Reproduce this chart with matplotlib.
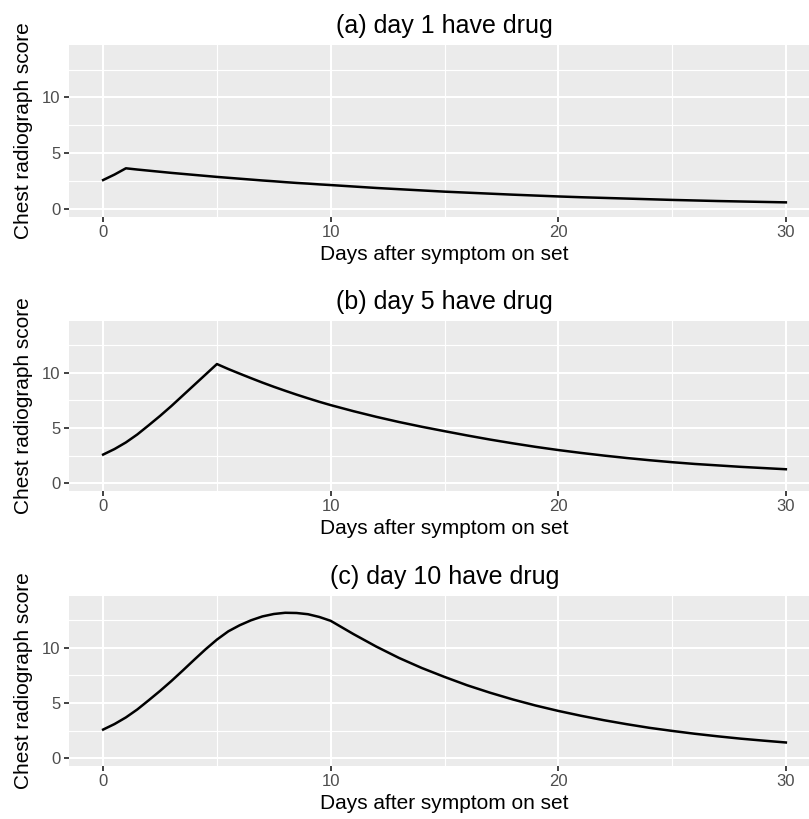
import matplotlib

matplotlib.use("Agg")
import matplotlib.pyplot as plt
from matplotlib.ticker import MultipleLocator

# Chest radiograph score: half-day steps up to day 10,
# then one value per day
days = [0, 0.5, 1, 1.5, 2, 2.5, 3, 3.5, 4, 4.5, 5, 5.5, 6, 6.5, 7, 7.5, 8, 8.5,
        9, 9.5, 10, 11, 12, 13, 14, 15, 16, 17, 18, 19, 20, 21, 22, 23, 24,
        25, 26, 27, 28, 29, 30]

score_day1 = [2.61, 3.10, 3.66, 3.55, 3.45, 3.35, 3.25, 3.16, 3.07, 2.98, 2.89,
              2.81, 2.73, 2.65, 2.57, 2.50, 2.42, 2.35, 2.29, 2.22, 2.16,
              2.03, 1.90, 1.79, 1.68, 1.57, 1.48, 1.39, 1.30, 1.22, 1.14,
              1.07, 1.01, 0.95, 0.89, 0.83, 0.78, 0.73, 0.69, 0.65, 0.61]

score_day5 = [2.60, 3.10, 3.70, 4.42, 5.25, 6.10, 7.00, 7.95, 8.90, 9.85, 10.80,
              10.35, 9.93, 9.52, 9.12, 8.74, 8.38, 8.03, 7.70, 7.38, 7.08,
              6.53, 6.02, 5.55, 5.12, 4.72, 4.33, 3.96, 3.62, 3.30, 3.01,
              2.75, 2.51, 2.29, 2.09, 1.91, 1.75, 1.62, 1.49, 1.38, 1.27]

score_day10 = [2.60, 3.10, 3.70, 4.42, 5.25, 6.10, 7.00, 7.95, 8.92, 9.87, 10.75,
               11.50, 12.05, 12.50, 12.85, 13.07, 13.18, 13.16, 13.05, 12.80, 12.45,
               11.25, 10.12, 9.09, 8.18, 7.37, 6.61, 5.94, 5.33, 4.78, 4.29,
               3.85, 3.45, 3.09, 2.76, 2.48, 2.22, 1.99, 1.78, 1.60, 1.43]

titles = ["(a) day 1 have drug", "(b) day 5 have drug", "(c) day 10 have drug"]
series = [score_day1, score_day5, score_day10]

plt.rcParams["font.family"] = ["Liberation Sans", "DejaVu Sans"]

W, H = 809, 819
fig = plt.figure(figsize=(W / 100, H / 100), dpi=100)

# panel boxes in pixels (top, bottom); panels run a bit past the right edge
panel_left, panel_right = 69, 820
panel_rows = [(45, 217), (321, 491), (596, 766)]

for (top, bottom), title, values in zip(panel_rows, titles, series):
    ax = fig.add_axes([panel_left / W, 1 - bottom / H,
                       (panel_right - panel_left) / W, (bottom - top) / H])
    ax.set_facecolor("#EBEBEB")
    for side in ax.spines.values():
        side.set_visible(False)

    ax.plot(days, values, color="black", lw=1.8, solid_joinstyle="round")

    ax.set_xlim(-1.5, 31.5)
    ax.set_ylim(-0.7, 14.7)
    ax.xaxis.set_major_locator(MultipleLocator(10))
    ax.xaxis.set_minor_locator(MultipleLocator(5))
    ax.yaxis.set_major_locator(MultipleLocator(5))
    ax.yaxis.set_minor_locator(MultipleLocator(2.5))

    ax.grid(which="major", color="white", lw=1.5)
    ax.grid(which="minor", color="white", lw=0.8)
    ax.set_axisbelow(True)

    ax.tick_params(which="major", length=3.6, width=1.3, color="#333333",
                   labelcolor="#4D4D4D", labelsize=12, pad=2.4)
    ax.tick_params(which="minor", length=0)

    ax.set_title(title, fontsize=18, pad=8.5)

    # x label baseline sits 43 px under the panel
    ax.set_xlabel("Days after symptom on set", fontsize=15)
    ax.xaxis.label.set_va("baseline")
    ax.xaxis.set_label_coords(0.5, -43 / (bottom - top))

    ax.set_ylabel("Chest radiograph score", fontsize=15)
    ax.yaxis.set_label_coords((33 - panel_left) / (panel_right - panel_left), 0.5)

fig.savefig("out.png", dpi=100)
